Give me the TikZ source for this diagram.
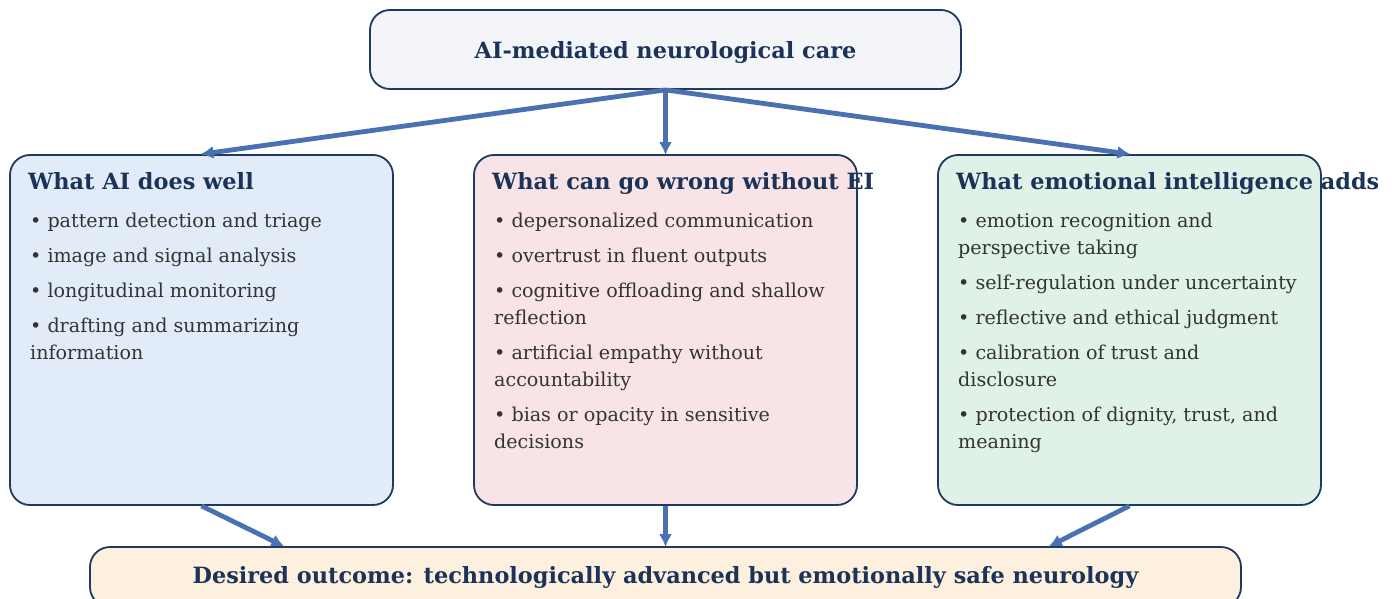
\documentclass[tikz,border=0pt]{standalone}
\usepackage{fontspec}
\setmainfont{DejaVu Serif}
\usetikzlibrary{arrows.meta}

\definecolor{edgeblue}{HTML}{1F3A5F}
\definecolor{headtext}{HTML}{1B3358}
\definecolor{bodytext}{HTML}{333333}
\definecolor{flowblue}{HTML}{4A72B2}
\definecolor{topfill}{HTML}{F3F5F9}
\definecolor{aifill}{HTML}{E1ECF8}
\definecolor{riskfill}{HTML}{F8E4E6}
\definecolor{eifill}{HTML}{E0F1E8}
\definecolor{goalfill}{HTML}{FDF0DF}

\tikzset{
  panel/.style={draw=edgeblue, line width=1.8pt, rounded corners=20pt,
    rectangle, inner sep=0pt},
  colpanel/.style={panel, minimum width=383pt, minimum height=350pt},
  headline/.style={font=\fontsize{22.4}{26}\selectfont\bfseries, text=headtext,
    inner sep=0pt},
  heading/.style={headline, anchor=base west},
  item/.style={font=\fontsize{19.1}{23}\selectfont, text=bodytext,
    inner sep=0pt, anchor=base west},
  flow/.style={draw=flowblue, line width=4.8pt,
    -{Latex[length=13pt,width=13pt]}, shorten >=-1pt},
}

\begin{document}
\begin{tikzpicture}[x=1pt, y=-1pt]
\useasboundingbox (0,0) rectangle (1397,599);
\clip (0,0) rectangle (1397,599);

% boxes
\node[panel, fill=topfill, minimum width=591pt, minimum height=79pt]
  (top) at (665.5,49.5) {};
\node[colpanel, fill=aifill] (ai) at (201.5,330) {};
\node[colpanel, fill=riskfill] (risk) at (665.5,330) {};
\node[colpanel, fill=eifill] (ei) at (1129.5,330) {};
\node[panel, fill=goalfill, minimum width=1151pt, minimum height=60pt]
  (goal) at (665.5,577) {};

% connectors
\coordinate (goalL) at ([xshift=-382pt]goal.north);
\coordinate (goalR) at ([xshift=384pt]goal.north);
\draw[flow] (top.south) -- (ai.north);
\draw[flow] (top.south) -- (risk.north);
\draw[flow] (top.south) -- (ei.north);
\draw[flow] (ai.south) -- (goalL);
\draw[flow] (risk.south) -- (goal.north);
\draw[flow] (ei.south) -- (goalR);

% titles
\node[headline, anchor=base] (toptitle) at ([yshift=-9.5pt]top.center)
  {AI-mediated neurological care};
\node[headline, anchor=base] (goaltitle) at ([yshift=-6pt]goal.center)
  {Desired outcome: technologically advanced but emotionally safe neurology};

% left column
\node[heading] (aih) at (28,189) {What AI does well};
\node[item] (ai1) at (30,227) {• pattern detection and triage};
\node[item] (ai2) at (30,262) {• image and signal analysis};
\node[item] (ai3) at (30,297) {• longitudinal monitoring};
\node[item] (ai4) at (30,332) {• drafting and summarizing};
\node[item] (ai4b) at (30,359) {information};

% middle column
\node[heading] (riskh) at (492,189) {What can go wrong without EI};
\node[item] (risk1) at (494,227) {• depersonalized communication};
\node[item] (risk2) at (494,262) {• overtrust in fluent outputs};
\node[item] (risk3) at (494,297) {• cognitive offloading and shallow};
\node[item] (risk3b) at (494,324) {reflection};
\node[item] (risk4) at (494,359) {• artificial empathy without};
\node[item] (risk4b) at (494,386) {accountability};
\node[item] (risk5) at (494,421) {• bias or opacity in sensitive};
\node[item] (risk5b) at (494,448) {decisions};

% right column
\node[heading] (eih) at (956,189) {What emotional intelligence adds};
\node[item] (ei1) at (958,227) {• emotion recognition and};
\node[item] (ei1b) at (958,254) {perspective taking};
\node[item] (ei2) at (958,289) {• self-regulation under uncertainty};
\node[item] (ei3) at (958,324) {• reflective and ethical judgment};
\node[item] (ei4) at (958,359) {• calibration of trust and};
\node[item] (ei4b) at (958,386) {disclosure};
\node[item] (ei5) at (958,421) {• protection of dignity, trust, and};
\node[item] (ei5b) at (958,448) {meaning};
\end{tikzpicture}
\end{document}
